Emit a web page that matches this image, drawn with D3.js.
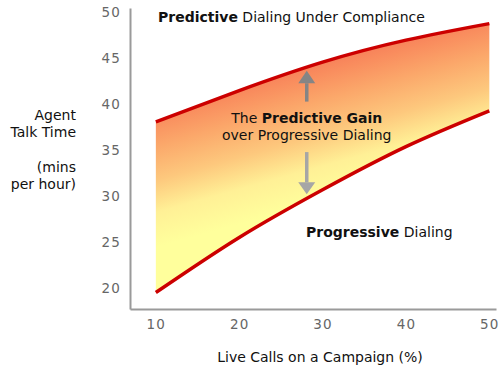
<!DOCTYPE html>
<html>
<head>
<meta charset="utf-8">
<script src="https://cdn.jsdelivr.net/npm/d3@7"></script>
<style>
  html, body { margin: 0; padding: 0; background: #fff; }
  svg { display: block; }
  text { font-family: "DejaVu Sans", Verdana, sans-serif; }
</style>
</head>
<body>
<svg id="chart" width="504" height="369"></svg>
<script>
// ---- data ----
const liveCalls = [10, 20, 30, 40, 50];
const predictive = [38.1, 41.5, 44.6, 47.0, 48.8];
const progressive = [19.5, 25.5, 30.7, 35.4, 39.3];
const xTicks = [10, 20, 30, 40, 50];
const yTicks = [20, 25, 30, 35, 40, 45, 50];
const titleBold = "Predictive";
const titleRest = " Dialing Under Compliance";
const yLabelLines = ["Agent", "Talk Time", "", "(mins", "per hour)"];
const xLabel = "Live Calls on a Campaign (%)";

const svg = d3.select("#chart");

const x = d3.scaleLinear().domain([6.9, 50.8]).range([130, 496]);
const y = d3.scaleLinear().domain([17.7, 50.5]).range([309, 8]);

// gradient (isolines roughly parallel to the band)
const defs = svg.append("defs");
const grad = defs.append("linearGradient")
  .attr("id", "bandGrad")
  .attr("gradientUnits", "userSpaceOnUse")
  .attr("x1", 37).attr("y1", 135).attr("x2", 74.5).attr("y2", 270);
[[0, "#f67c58"], [0.12, "#f98d5e"], [0.3, "#fba76a"], [0.54, "#fdc87d"], [0.76, "#fff096"], [1, "#ffff9c"]]
  .forEach(([o, c]) => grad.append("stop").attr("offset", o).attr("stop-color", c));

const rows = liveCalls.map((v, i) => ({ x: v, hi: predictive[i], lo: progressive[i] }));
const curve = d3.curveNatural;

svg.append("path")
  .datum(rows)
  .attr("d", d3.area().x(d => x(d.x)).y0(d => y(d.lo)).y1(d => y(d.hi)).curve(curve))
  .attr("fill", "url(#bandGrad)");

const line = (key) => d3.line().x(d => x(d.x)).y(d => y(d[key])).curve(curve);
["hi", "lo"].forEach(k => {
  svg.append("path").datum(rows).attr("d", line(k)(rows))
    .attr("fill", "none").attr("stroke", "#cc0000").attr("stroke-width", 3.5);
});

// axes
const yAxis = svg.append("g").attr("transform", `translate(${x.range()[0]},0)`)
  .call(d3.axisLeft(y).tickValues(yTicks).tickSize(0).tickSizeOuter(0).tickPadding(9));
const xAxis = svg.append("g").attr("transform", `translate(0,${y.range()[0]})`)
  .call(d3.axisBottom(x).tickValues(xTicks).tickSize(0).tickSizeOuter(0).tickPadding(10));
[yAxis, xAxis].forEach(g => {
  g.select(".domain").attr("stroke", "#9a9a9a").attr("stroke-width", 2);
  g.selectAll("text").attr("font-size", 13.5).attr("fill", "#666")
    .attr("font-family", "DejaVu Sans, Verdana, sans-serif").attr("letter-spacing", 1.2);
});

// arrows (in data units)
function arrow(xv, tail, tip, headBase, color) {
  const xs = x(xv), ht = y(tail), hp = y(tip), hb = y(headBase);
  svg.append("line").attr("x1", xs).attr("x2", xs).attr("y1", ht).attr("y2", hb)
    .attr("stroke", color).attr("stroke-width", 3.5);
  svg.append("path")
    .attr("d", `M${xs - 8.5},${hb}L${xs + 8.5},${hb}L${xs},${hp}Z`)
    .attr("fill", color);
}
arrow(28.1, 40.3, 43.65, 42.3, "#858585");
arrow(28.1, 34.8, 30.2, 31.5, "#a6a6a6");

// texts
const title = svg.append("text").attr("x", 158).attr("y", 22).attr("font-size", 14).attr("fill", "#111");
title.append("tspan").attr("font-weight", "bold").text(titleBold);
title.append("tspan").text(titleRest);

const gain = svg.append("text").attr("x", x(28.1)).attr("y", 123).attr("text-anchor", "middle")
  .attr("font-size", 14).attr("fill", "#111");
gain.append("tspan").text("The ");
gain.append("tspan").attr("font-weight", "bold").text("Predictive Gain");
svg.append("text").attr("x", x(28.1)).attr("y", 140).attr("text-anchor", "middle")
  .attr("font-size", 14).attr("fill", "#111").text("over Progressive Dialing");

const prog = svg.append("text").attr("x", 306).attr("y", 237).attr("font-size", 14).attr("fill", "#111");
prog.append("tspan").attr("font-weight", "bold").text("Progressive");
prog.append("tspan").text(" Dialing");

const yl = svg.append("text").attr("text-anchor", "end").attr("font-size", 14).attr("fill", "#111");
const baselines = [120, 137, 0, 172, 189];
yLabelLines.forEach((t, i) => {
  if (t) yl.append("tspan").attr("x", 76).attr("y", baselines[i]).text(t);
});

svg.append("text").attr("x", 320).attr("y", 362).attr("text-anchor", "middle")
  .attr("font-size", 14).attr("fill", "#111").text(xLabel);
</script>
</body>
</html>
